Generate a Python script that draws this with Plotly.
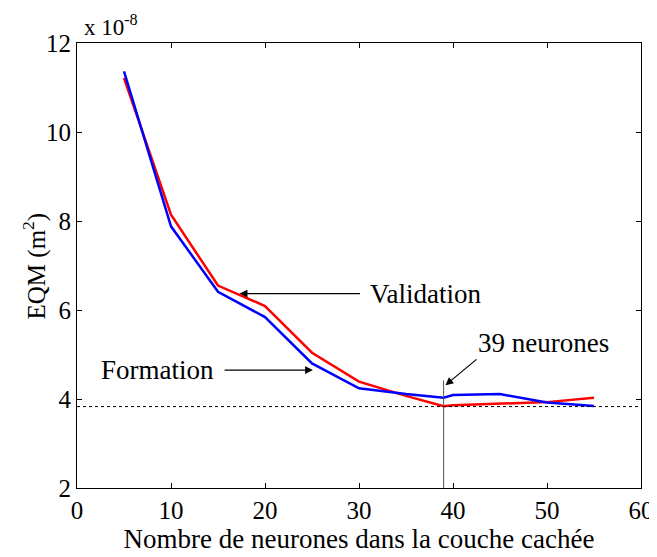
import plotly.graph_objects as go

# Data (x 10^-8 m^2)
neurones = [5, 10, 15, 20, 25, 30, 35, 39, 40, 45, 50, 55]
validation = [11.21, 8.14, 6.55, 6.09, 5.04, 4.39, 4.07, 3.84, 3.86, 3.90, 3.93, 4.03]
formation = [11.36, 7.88, 6.41, 5.84, 4.80, 4.24, 4.11, 4.03, 4.09, 4.11, 3.92, 3.84]

optimum_n = 39
min_level = 3.83
vline_top = 4.42

x_ticks = [0, 10, 20, 30, 40, 50, 60]
y_ticks = [2, 4, 6, 8, 10, 12]

FONT = "Times New Roman, Liberation Serif, DejaVu Serif, serif"

fig = go.Figure()
fig.add_trace(go.Scatter(x=neurones, y=validation, mode="lines",
                         line=dict(color="#ff0000", width=2.5), name="Validation"))
fig.add_trace(go.Scatter(x=neurones, y=formation, mode="lines",
                         line=dict(color="#0000ff", width=2.5), name="Formation"))

fig.add_shape(type="line", xref="x", yref="y", x0=0, x1=60, y0=min_level, y1=min_level,
              line=dict(color="black", width=1, dash="dot"))
fig.add_shape(type="line", xref="x", yref="y", x0=optimum_n, x1=optimum_n, y0=2, y1=vline_top,
              line=dict(color="#555555", width=1))

arrow = dict(showarrow=True, arrowhead=2, arrowsize=1.3, arrowwidth=1.2, arrowcolor="black",
             axref="x", ayref="y", xref="x", yref="y")
label_font = dict(family=FONT, size=27, color="black")

fig.add_annotation(x=17.3, y=6.37, ax=30.1, ay=6.37, text="Validation", xanchor="left",
                   borderpad=9, font=label_font, **arrow)
fig.add_annotation(x=25.1, y=4.65, ax=15.7, ay=4.65, text="Formation", xanchor="right",
                   borderpad=10, font=label_font, **arrow)
fig.add_annotation(x=39.2, y=4.31, ax=42.5, ay=4.89, text="39 neurones", xanchor="left",
                   yanchor="bottom", borderpad=0, font=label_font, **arrow)

fig.add_annotation(xref="paper", yref="paper", x=0.008, y=1.0, yshift=1, xanchor="left", yanchor="bottom",
                   text="x 10<sup>-8</sup>", showarrow=False,
                   font=dict(family=FONT, size=23, color="black"))

# y-axis title
fig.add_annotation(xref="paper", yref="paper", x=-0.0745, y=0.5, xanchor="center", yanchor="middle",
                   text="EQM (m<sup>2</sup>)", textangle=-90, showarrow=False,
                   font=dict(family=FONT, size=25, color="black"))

axis_common = dict(showgrid=False, zeroline=False, showline=True, linecolor="black", linewidth=1,
                   mirror="ticks", ticks="inside", ticklen=5, tickcolor="black", automargin=False,
                   tickfont=dict(family=FONT, size=25, color="black"))

fig.update_xaxes(range=[0, 60], tickvals=x_ticks,
                 title=dict(text="Nombre de neurones dans la couche cachée",
                            font=dict(family=FONT, size=27, color="black"), standoff=4),
                 **axis_common)
fig.update_yaxes(range=[2, 12], tickvals=y_ticks, **axis_common)

fig.update_layout(width=649, height=549, showlegend=False,
                  margin=dict(l=69, r=16, t=35, b=69),
                  plot_bgcolor="white", paper_bgcolor="white",
                  font=dict(family=FONT, color="black"))

fig.write_html("out.html")
